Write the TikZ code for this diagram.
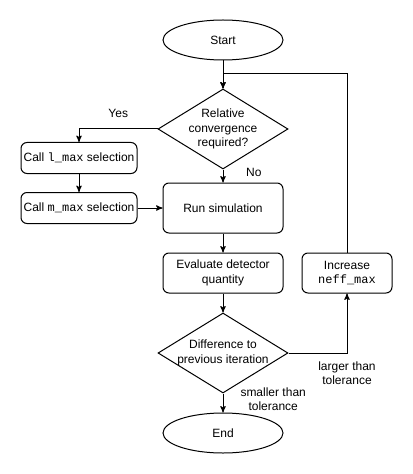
\documentclass[tikz,border=0pt]{standalone}
\usepackage{fontspec}
\setmainfont{Liberation Sans}
\setmonofont{Liberation Mono}
\usetikzlibrary{arrows,shapes.geometric,positioning}

\begin{document}
\begin{tikzpicture}[->,>=stealth',x=0.75pt,y=-0.75pt,line width=0.75pt,
                    font=\fontsize{9pt}{10.8pt}\selectfont]
  \tikzstyle{terminal}=[draw,ellipse,minimum width=90pt,minimum height=30pt,inner sep=0pt]
  \tikzstyle{process}=[draw,rectangle,rounded corners=4.5pt,minimum width=90pt,
                       minimum height=30pt,align=center,inner sep=0pt]
  \tikzstyle{decision}=[draw,diamond,minimum width=97.5pt,minimum height=60pt,inner sep=0pt]
  \tikzstyle{lbl}=[align=center,inner sep=0pt]

  \useasboundingbox (0,0) rectangle (413,474);

  \node[terminal] (start) at (223,40) {Start};
  \node[decision] (conv) [below of=start,node distance=66.75pt,
        label={[lbl]center:{Relative\\convergence\\required?}}] {};
  \node[process,minimum height=37.5pt] (run) [below of=conv,node distance=59.25pt] {Run simulation};
  \node[process] (eval) [below of=run,node distance=48.75pt] {Evaluate detector\\quantity};
  \node[decision] (diff) [below of=eval,node distance=60pt,
        label={[lbl]center:{Difference to\\previous iteration}}] {};
  \node[terminal] (stop) [below of=diff,node distance=60pt] {End};

  \node[process,minimum width=87pt,minimum height=23.25pt] (mmax) [left of=run,node distance=108pt]
        {Call \texttt{m\_max} selection};
  \node[process,minimum width=87pt,minimum height=23.25pt] (lmax) [above of=mmax,node distance=37.5pt]
        {Call \texttt{l\_max} selection};
  \node[process,minimum width=67.5pt] (inc) [right of=eval,node distance=93pt]
        {Increase\\\texttt{neff\_max}};

  \coordinate (loop) at ([yshift=-9.75pt]start.south);

  \path (start) edge (conv)
        (conv) edge node[lbl,right=17pt,pos=0.2] {No} (run)
        (lmax) edge (mmax)
        (run) edge (eval)
        (eval) edge (diff)
        (diff) edge node[lbl,right=12.75pt,pos=0.3] {smaller than\\tolerance} (stop);
  \draw (conv.west) -| node[lbl,pos=0.25,above=8.5pt] {Yes} (lmax.north);
  \draw (mmax.east) -- (mmax.east -| run.west);
  \draw (diff.east) -| node[lbl,pos=0.5,below=6pt] {larger than\\tolerance} (inc.south);
  \draw (inc.north) |- (loop) -- (conv.north);
\end{tikzpicture}
\end{document}
